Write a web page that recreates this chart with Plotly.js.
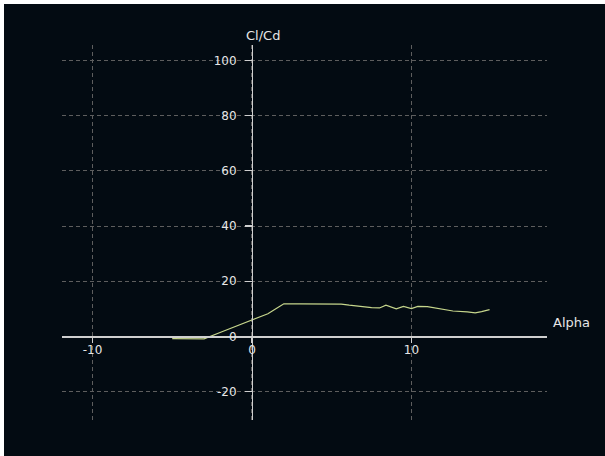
<!DOCTYPE html>
<html>
<head>
<meta charset="utf-8">
<script src="https://cdn.plot.ly/plotly-3.0.1.min.js"></script>
<style>
html,body{margin:0;padding:0;background:#ffffff;width:605px;height:456px;overflow:hidden;}
#chart{position:absolute;left:4px;top:4px;width:601px;height:452px;}
</style>
</head>
<body>
<div id="chart"></div>
<script>
// Alpha (deg) and Cl/Cd values
const alpha = [-5, -3, -2, -1, 0, 1, 1.5, 2, 3, 4, 5, 5.6, 6.1, 6.8, 7.5, 8.0, 8.4, 9.05, 9.5, 10.0, 10.4, 11.0, 11.8, 12.6, 13.5, 14.0, 14.4, 14.9];
const clcd  = [-0.8, -0.9, 1.4, 3.6, 5.9, 8.2, 10.0, 11.8, 11.8, 11.8, 11.7, 11.7, 11.3, 10.8, 10.4, 10.3, 11.3, 10.0, 10.9, 10.1, 10.9, 10.8, 9.9, 9.2, 8.9, 8.5, 9.0, 9.7];
const xTickVals = [-10, 0, 10];
const xTickText = ['-10', '0', '10'];
const yTickVals = [-20, 0, 20, 40, 60, 80, 100];
const yTickText = ['-20', '0', '20', '40', '60', '80', '100'];
const xTitle = 'Alpha';
const yTitle = 'Cl/Cd';

const axisCommon = {
  showline: true, linecolor: '#cfcfcf', linewidth: 1.2,
  ticks: 'outside', tickcolor: '#cfcfcf', tickwidth: 1.2,
  showgrid: true, gridcolor: '#5e5e5e', gridwidth: 1, griddash: '4px,3px',
  zeroline: false, anchor: 'free', tickmode: 'array',
  tickfont: {family: 'DejaVu Sans', size: 12, color: '#e6e6e6'}
};

const layout = {
  width: 601, height: 452,
  margin: {l: 58, r: 58, t: 41, b: 36},
  paper_bgcolor: '#030b12', plot_bgcolor: '#030b12',
  showlegend: false,
  xaxis: Object.assign({}, axisCommon, {
    range: [-11.91, 18.5], tickvals: xTickVals, ticktext: xTickText, position: 0.223,
    ticklen: 5, ticklabelstandoff: -3
  }),
  yaxis: Object.assign({}, axisCommon, {
    range: [-30.3, 105.6], tickvals: yTickVals, ticktext: yTickText, position: 0.3918,
    ticklen: 7, ticklabelstandoff: 6
  }),
  annotations: [
    {text: yTitle, xref: 'paper', yref: 'paper', x: 0.4144, y: 1.024, xanchor: 'center', yanchor: 'middle', showarrow: false,
     font: {family: 'DejaVu Sans', size: 13, color: '#e6e6e6'}},
    {text: xTitle, xref: 'paper', yref: 'paper', x: 1.0515, y: 0.261, xanchor: 'center', yanchor: 'middle', showarrow: false,
     font: {family: 'DejaVu Sans', size: 13, color: '#e6e6e6'}}
  ]
};

const data = [{
  x: alpha, y: clcd, type: 'scatter', mode: 'lines',
  line: {color: '#c6d68c', width: 1.2}, hoverinfo: 'skip'
}];

Plotly.newPlot('chart', data, layout, {staticPlot: true, displayModeBar: false});
</script>
</body>
</html>
